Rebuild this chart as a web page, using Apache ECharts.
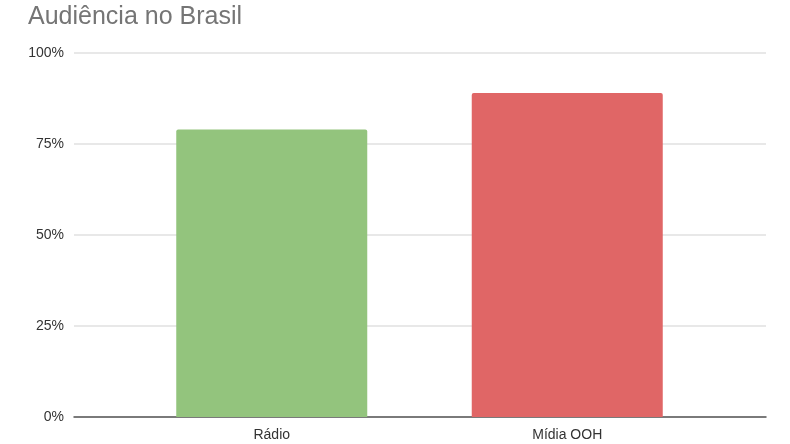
<!DOCTYPE html>
<html>
<head>
<meta charset="utf-8">
<script src="https://cdn.jsdelivr.net/npm/echarts@6/dist/echarts.min.js"></script>
<style>
  html, body { margin: 0; padding: 0; background: #fff; }
  #chart { width: 790px; height: 444px; }
</style>
</head>
<body>
<div id="chart"></div>
<script>
const categories = ['Rádio', 'Mídia OOH'];
const audience = [79, 89];
const barColors = ['#93c47d', '#e06666'];
const yTicks = [0, 25, 50, 75, 100];

const chart = echarts.init(document.getElementById('chart'));

const option = {
  backgroundColor: '#fff',
  animation: false,
  title: {
    text: 'Audiência no Brasil',
    left: 23,
    top: 0,
    textStyle: {
      color: '#757575',
      fontSize: 25,
      fontWeight: 'normal',
      fontFamily: 'Liberation Sans, Arial, sans-serif'
    }
  },
  grid: [
    // full width grid: gridlines and axis line
    { left: 74, right: 24, top: 53, bottom: 27 },
    // narrower grid where the bars live
    { left: 124, right: 75, top: 53, bottom: 27 }
  ],
  xAxis: [
    {
      gridIndex: 0,
      type: 'category',
      data: [''],
      axisLine: { show: true, lineStyle: { color: '#555', width: 1.5 } },
      axisTick: { show: false },
      axisLabel: { show: false }
    },
    {
      gridIndex: 1,
      type: 'category',
      data: categories,
      axisLine: { show: false },
      axisTick: { show: false },
      axisLabel: {
        margin: 11,
        color: '#333',
        fontSize: 14,
        fontFamily: 'Liberation Sans, Arial, sans-serif'
      }
    }
  ],
  yAxis: [
    {
      gridIndex: 0,
      type: 'value',
      min: yTicks[0],
      max: yTicks[yTicks.length - 1],
      interval: 25,
      axisLine: { show: false },
      axisTick: { show: false },
      axisLabel: {
        formatter: '{value}%',
        margin: 10,
        color: '#333',
        fontSize: 14,
        fontFamily: 'Liberation Sans, Arial, sans-serif'
      },
      splitLine: { lineStyle: { color: '#e0e0e0', width: 1.5 } }
    },
    {
      gridIndex: 1,
      type: 'value',
      min: 0,
      max: 100,
      show: false
    }
  ],
  series: [{
    name: 'Audiência',
    type: 'bar',
    xAxisIndex: 1,
    yAxisIndex: 1,
    barWidth: 191,
    z: 3,
    data: audience.map((v, i) => ({
      value: v,
      itemStyle: { color: barColors[i], borderRadius: [2, 2, 0, 0] }
    }))
  }]
};

chart.setOption(option);
</script>
</body>
</html>
